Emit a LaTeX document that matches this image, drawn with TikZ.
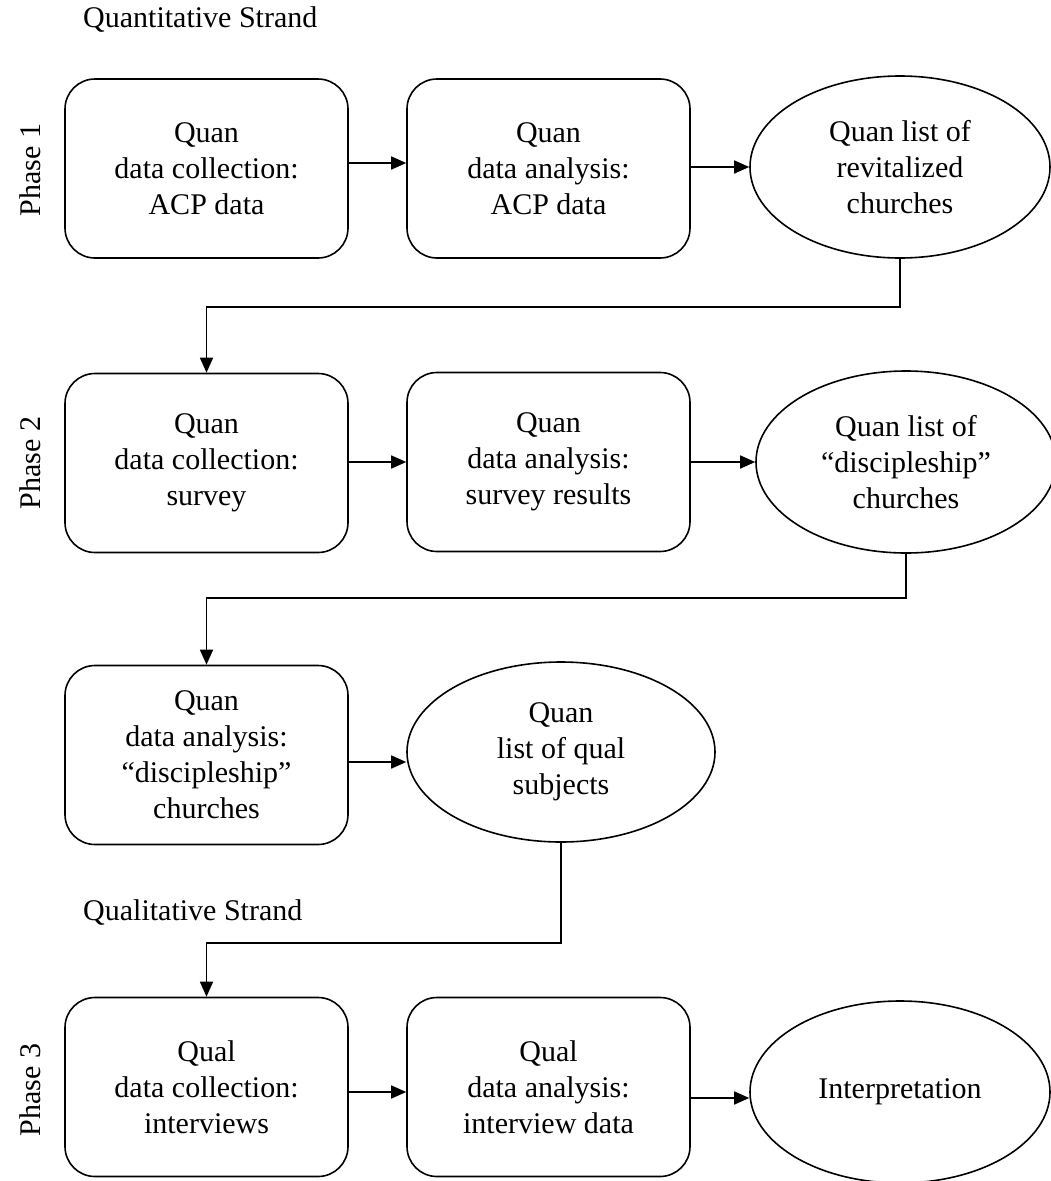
\documentclass[tikz,border=0pt]{standalone}
\usepackage{fontspec}
\setmainfont{Liberation Serif}
\usetikzlibrary{shapes.geometric,arrows.meta}
\begin{document}
\begin{tikzpicture}[x=1pt,y=-1pt,
  every node/.style={font=\fontsize{30}{36}\selectfont},
  boxnode/.style={draw,line width=1.6pt,rounded corners=30pt,minimum width=283pt,minimum height=179pt,align=center,inner sep=0pt},
  ellnode/.style={draw,ellipse,line width=1.6pt,minimum width=300pt,minimum height=182pt,align=center,inner sep=0pt},
  arr/.style={line width=1.6pt,-{Triangle[length=15pt,width=13pt]}},
  lbl/.style={anchor=west,inner sep=0pt},
  phase/.style={rotate=90,inner sep=0pt}]
\useasboundingbox (0,0) rectangle (1050,1181);
\node[lbl] (qtS) at (83,20) {Quantitative Strand};
\node[lbl] (qlS) at (83,913) {Qualitative Strand};
\node[phase] (p1) at (30,170) {Phase 1};
\node[phase] (p2) at (30,463) {Phase 2};
\node[phase] (p3) at (30,1090) {Phase 3};
% row 1
\node[boxnode] (b11) at (206.5,168.5) {Quan\\data collection:\\ACP data};
\node[boxnode] (b12) at (548.5,168.5) {Quan\\data analysis:\\ACP data};
\node[ellnode] (e1) at (900,167) {Quan list of\\revitalized\\churches};
% row 2
\node[boxnode] (b21) at (206.5,463) {Quan\\data collection:\\survey};
\node[boxnode] (b22) at (548.5,462) {Quan\\data analysis:\\survey results};
\node[ellnode] (e2) at (906,462) {Quan list of\\“discipleship”\\churches};
% row 3
\node[boxnode] (b31) at (206.5,755) {Quan\\data analysis:\\“discipleship”\\churches};
\node[ellnode,minimum width=308pt,minimum height=180pt] (e3) at (561,752) {Quan\\list of qual\\subjects};
% row 4
\node[boxnode] (b41) at (206.5,1087) {Qual\\data collection:\\interviews};
\node[boxnode] (b42) at (548.5,1087) {Qual\\data analysis:\\interview data};
\node[ellnode] (e4) at (900,1092) {Interpretation};
% arrows
\draw[arr] (b11.east |- 0,163) -- (b12.west |- 0,163);
\draw[arr] (b12.east |- 0,167) -- (e1.west);
\draw[arr] (e1.south) -- (e1.south |- 0,307) -| (b21.north);
\draw[arr] (b21.east |- 0,462) -- (b22.west |- 0,462);
\draw[arr] (b22.east |- 0,462) -- (e2.west);
\draw[arr] (e2.south) -- (e2.south |- 0,598) -| (b31.north);
\draw[arr] (b31.east |- 0,762) -- (e3.west |- 0,762);
\draw[arr] (e3.south) -- (e3.south |- 0,943) -| (b41.north);
\draw[arr] (b41.east |- 0,1092) -- (b42.west |- 0,1092);
\draw[arr] (b42.east |- 0,1098) -- (e4.west |- 0,1098);
\end{tikzpicture}
\end{document}
